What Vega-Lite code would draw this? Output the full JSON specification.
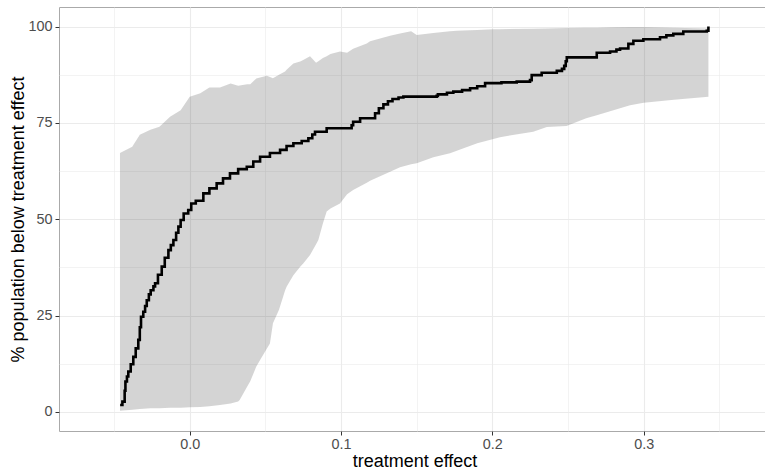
{
  "$schema": "https://vega.github.io/schema/vega-lite/v6.json",
  "width": 711,
  "height": 424,
  "autosize": {"type": "none"},
  "padding": {"left": 59, "top": 7, "right": 0, "bottom": 38},
  "config": {
    "font": "Liberation Sans",
    "view": {"stroke": "#AAAAAA", "strokeWidth": 1},
    "axis": {
      "labelFont": "Liberation Sans",
      "titleFont": "Liberation Sans",
      "labelFontSize": 14.4,
      "labelColor": "#4D4D4D",
      "titleFontSize": 18,
      "titleFontWeight": "normal",
      "titleColor": "#000000",
      "tickColor": "#333333",
      "tickSize": 4,
      "tickWidth": 1,
      "domain": false,
      "gridColor": "#EBEBEB",
      "gridWidth": 1.1
    }
  },
  "datasets": {
    "ribbon": [
      {"x": -0.0461, "lo": 0.3, "hi": 67.2},
      {"x": -0.038, "lo": 0.6, "hi": 68.8},
      {"x": -0.033, "lo": 0.8, "hi": 71.9},
      {"x": -0.026, "lo": 1.0, "hi": 73.2},
      {"x": -0.020, "lo": 1.0, "hi": 74.0},
      {"x": -0.013, "lo": 1.1, "hi": 76.6},
      {"x": -0.006, "lo": 1.1, "hi": 78.3},
      {"x": 0.000, "lo": 1.2, "hi": 81.8},
      {"x": 0.007, "lo": 1.3, "hi": 82.7},
      {"x": 0.013, "lo": 1.5, "hi": 84.2},
      {"x": 0.020, "lo": 1.8, "hi": 84.2},
      {"x": 0.027, "lo": 2.2, "hi": 85.2},
      {"x": 0.032, "lo": 2.7, "hi": 84.6},
      {"x": 0.033, "lo": 3.1, "hi": 84.7},
      {"x": 0.038, "lo": 6.6, "hi": 85.0},
      {"x": 0.040, "lo": 8.0, "hi": 85.0},
      {"x": 0.044, "lo": 11.8, "hi": 86.5},
      {"x": 0.0465, "lo": 13.5, "hi": 86.8},
      {"x": 0.051, "lo": 16.5, "hi": 87.2},
      {"x": 0.053, "lo": 17.8, "hi": 86.9},
      {"x": 0.055, "lo": 23.0, "hi": 86.6},
      {"x": 0.059, "lo": 26.5, "hi": 87.5},
      {"x": 0.063, "lo": 31.5, "hi": 88.3},
      {"x": 0.064, "lo": 32.5, "hi": 88.8},
      {"x": 0.0685, "lo": 35.5, "hi": 90.4},
      {"x": 0.073, "lo": 37.7, "hi": 90.9},
      {"x": 0.075, "lo": 38.5, "hi": 91.3},
      {"x": 0.0795, "lo": 40.7, "hi": 92.3},
      {"x": 0.0835, "lo": 43.5, "hi": 90.6},
      {"x": 0.085, "lo": 44.6, "hi": 91.0},
      {"x": 0.088, "lo": 48.9, "hi": 91.8},
      {"x": 0.0905, "lo": 52.0, "hi": 92.3},
      {"x": 0.093, "lo": 52.8, "hi": 92.9},
      {"x": 0.0993, "lo": 54.1, "hi": 93.5},
      {"x": 0.104, "lo": 56.5, "hi": 93.2},
      {"x": 0.108, "lo": 57.6, "hi": 94.2},
      {"x": 0.117, "lo": 59.5, "hi": 95.6},
      {"x": 0.1192, "lo": 60.0, "hi": 96.2},
      {"x": 0.1324, "lo": 62.3, "hi": 97.6},
      {"x": 0.139, "lo": 63.5, "hi": 98.2},
      {"x": 0.1463, "lo": 64.3, "hi": 98.8},
      {"x": 0.150, "lo": 64.5, "hi": 97.8},
      {"x": 0.161, "lo": 66.1, "hi": 98.3},
      {"x": 0.172, "lo": 67.1, "hi": 98.8},
      {"x": 0.1765, "lo": 67.8, "hi": 98.9},
      {"x": 0.190, "lo": 69.7, "hi": 99.1},
      {"x": 0.2007, "lo": 70.8, "hi": 99.3},
      {"x": 0.205, "lo": 71.3, "hi": 99.3},
      {"x": 0.227, "lo": 72.7, "hi": 99.4},
      {"x": 0.236, "lo": 73.9, "hi": 99.5},
      {"x": 0.249, "lo": 74.2, "hi": 99.6},
      {"x": 0.262, "lo": 76.2, "hi": 99.7},
      {"x": 0.269, "lo": 77.0, "hi": 99.7},
      {"x": 0.280, "lo": 78.3, "hi": 99.8},
      {"x": 0.291, "lo": 79.6, "hi": 99.9},
      {"x": 0.300, "lo": 80.2, "hi": 99.9},
      {"x": 0.320, "lo": 81.0, "hi": 99.7},
      {"x": 0.3428, "lo": 81.8, "hi": 99.5}
    ],
    "curve": [
      {"x": -0.0460, "y": 1.8},
      {"x": -0.0445, "y": 2.7},
      {"x": -0.0430, "y": 5.5},
      {"x": -0.0425, "y": 7.9},
      {"x": -0.0415, "y": 9.2},
      {"x": -0.0406, "y": 10.5},
      {"x": -0.0390, "y": 12.4},
      {"x": -0.0373, "y": 14.3},
      {"x": -0.0357, "y": 16.5},
      {"x": -0.0340, "y": 18.7},
      {"x": -0.0330, "y": 22.0},
      {"x": -0.0322, "y": 24.7},
      {"x": -0.0307, "y": 26.0},
      {"x": -0.0295, "y": 27.5},
      {"x": -0.0284, "y": 29.0},
      {"x": -0.0270, "y": 30.5},
      {"x": -0.0258, "y": 31.6},
      {"x": -0.0240, "y": 32.6},
      {"x": -0.0229, "y": 33.4},
      {"x": -0.0210, "y": 35.6},
      {"x": -0.0185, "y": 37.7},
      {"x": -0.0165, "y": 40.0},
      {"x": -0.0141, "y": 42.0},
      {"x": -0.0125, "y": 43.3},
      {"x": -0.0108, "y": 44.6},
      {"x": -0.0090, "y": 46.5},
      {"x": -0.0075, "y": 48.1},
      {"x": -0.0060, "y": 49.8},
      {"x": -0.0040, "y": 51.5},
      {"x": -0.0010, "y": 52.4},
      {"x": 0.0010, "y": 54.1},
      {"x": 0.0040, "y": 54.8},
      {"x": 0.0090, "y": 56.7},
      {"x": 0.0130, "y": 58.0},
      {"x": 0.0178, "y": 59.3},
      {"x": 0.0220, "y": 60.6},
      {"x": 0.0266, "y": 61.9},
      {"x": 0.0320, "y": 63.0},
      {"x": 0.0377, "y": 63.6},
      {"x": 0.0420, "y": 65.0},
      {"x": 0.0465, "y": 66.2},
      {"x": 0.0530, "y": 67.2},
      {"x": 0.0597, "y": 68.0},
      {"x": 0.0640, "y": 69.0},
      {"x": 0.0685, "y": 69.7},
      {"x": 0.0740, "y": 70.3},
      {"x": 0.0784, "y": 71.0},
      {"x": 0.0810, "y": 72.0},
      {"x": 0.0828, "y": 72.7},
      {"x": 0.0905, "y": 73.6},
      {"x": 0.1070, "y": 74.4},
      {"x": 0.1080, "y": 75.3},
      {"x": 0.1126, "y": 76.2},
      {"x": 0.1225, "y": 77.5},
      {"x": 0.1250, "y": 78.8},
      {"x": 0.1280, "y": 79.8},
      {"x": 0.1310, "y": 80.6},
      {"x": 0.1340, "y": 81.2},
      {"x": 0.1380, "y": 81.6},
      {"x": 0.1412, "y": 81.8},
      {"x": 0.1632, "y": 82.0},
      {"x": 0.1640, "y": 82.4},
      {"x": 0.1700, "y": 82.8},
      {"x": 0.1742, "y": 83.1},
      {"x": 0.1800, "y": 83.5},
      {"x": 0.1853, "y": 84.0},
      {"x": 0.1900, "y": 84.5},
      {"x": 0.1952, "y": 85.3},
      {"x": 0.2060, "y": 85.5},
      {"x": 0.2161, "y": 85.7},
      {"x": 0.2249, "y": 86.1},
      {"x": 0.2260, "y": 87.4},
      {"x": 0.2326, "y": 88.0},
      {"x": 0.2426, "y": 88.5},
      {"x": 0.2460, "y": 89.0},
      {"x": 0.2475, "y": 89.8},
      {"x": 0.2485, "y": 91.0},
      {"x": 0.2492, "y": 92.0},
      {"x": 0.2690, "y": 93.2},
      {"x": 0.2778, "y": 93.5},
      {"x": 0.2820, "y": 94.0},
      {"x": 0.2844, "y": 94.3},
      {"x": 0.2899, "y": 95.5},
      {"x": 0.2932, "y": 96.3},
      {"x": 0.2998, "y": 96.7},
      {"x": 0.3108, "y": 97.2},
      {"x": 0.3150, "y": 97.7},
      {"x": 0.3196, "y": 98.1},
      {"x": 0.3262, "y": 98.7},
      {"x": 0.3417, "y": 98.9},
      {"x": 0.3428, "y": 100.0}
    ]
  },
  "layer": [
    {
      "data": {"name": "ribbon"},
      "mark": {"type": "area", "fill": "#333333", "fillOpacity": 0.21, "interpolate": "linear"},
      "encoding": {
        "x": {
          "field": "x", "type": "quantitative",
          "scale": {"domain": [-0.0864, 0.3835], "nice": false, "zero": false},
          "axis": {
            "orient": "bottom",
            "values": [0, 0.1, 0.2, 0.3],
            "format": ".1f",
            "grid": true,
            "labelPadding": 2,
            "title": "treatment effect",
            "titleY": 35,
            "titleBaseline": "alphabetic"
          }
        },
        "y": {
          "field": "lo", "type": "quantitative",
          "scale": {"domain": [-4.93, 105.06], "nice": false, "zero": false},
          "axis": {
            "orient": "left",
            "values": [0, 25, 50, 75, 100],
            "grid": true,
            "labelPadding": 3,
            "title": "% population below treatment effect",
            "titleX": -41,
            "titleY": 212,
            "titleAngle": -90,
            "titleBaseline": "middle"
          }
        },
        "y2": {"field": "hi"}
      }
    },
    {
      "data": {"name": "curve"},
      "mark": {"type": "line", "color": "#000000", "strokeWidth": 2.6, "interpolate": "step-after"},
      "encoding": {
        "x": {
          "field": "x", "type": "quantitative",
          "axis": {
            "orient": "top",
            "values": [-0.05, 0.05, 0.15, 0.25, 0.35],
            "grid": true, "gridWidth": 0.6,
            "labels": false, "ticks": false, "domain": false, "title": null
          }
        },
        "y": {
          "field": "y", "type": "quantitative",
          "axis": {
            "orient": "right",
            "values": [12.5, 37.5, 62.5, 87.5],
            "grid": true, "gridWidth": 0.6,
            "labels": false, "ticks": false, "domain": false, "title": null
          }
        }
      }
    }
  ],
  "resolve": {"axis": {"x": "independent", "y": "independent"}}
}
